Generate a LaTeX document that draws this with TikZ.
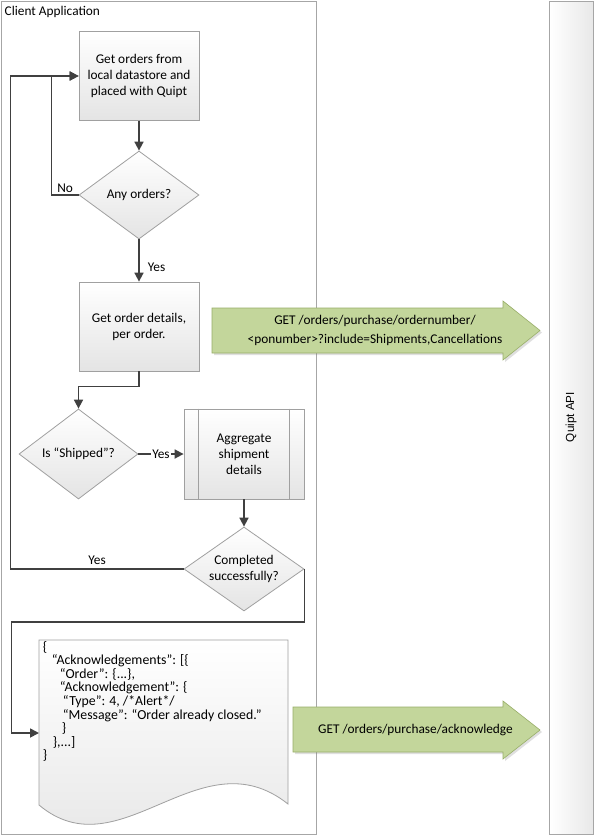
\documentclass[tikz,border=0pt]{standalone}
\usepackage{fontspec}
\setmainfont{Carlito}
\newfontfamily\apifont{Liberation Sans}
\usetikzlibrary{arrows.meta,shapes.geometric,calc,shadows}

\definecolor{linegray}{HTML}{404040}
\definecolor{bordergray}{HTML}{A6A6A6}
\definecolor{shapeborder}{HTML}{A0A0A0}
\definecolor{greenfill}{HTML}{C3D69B}
\definecolor{greenborder}{HTML}{98AE68}
\definecolor{shadegray}{HTML}{E4E4E4}

\begin{document}
\begin{tikzpicture}[x=1pt,y=-1pt,
  txt/.style={font=\fontsize{13.33}{16}\selectfont, text=black},
  procbox/.style={txt, draw=shapeborder, line width=0.8pt, top color=white, bottom color=shadegray,
    minimum width=120, minimum height=89, align=center, inner sep=0},
  decision/.style={diamond, draw=shapeborder, line width=0.8pt, top color=white, bottom color=shadegray,
    inner sep=0, minimum width=120, minimum height=88},
  dlabel/.style={txt, align=center},
  flow/.style={draw=linegray, line width=1.7pt, -{Triangle[length=9pt,width=9pt]}},
  lbl/.style={txt, inner sep=2pt},
  frame/.style={draw=bordergray, line width=1pt, anchor=north west, inner sep=0},
  callarrow/.style={fill=greenfill, draw=greenborder, line width=0.6pt,
    drop shadow={shadow xshift=2pt, shadow yshift=-2pt, opacity=0.25}}
]
\useasboundingbox (0,0) rectangle (596,836);
\fill[white] (0,0) rectangle (596,836);

% frames
\node[frame, fill=white, minimum width=315, minimum height=833] (client) at (1,1) {};
\node[txt, anchor=base west, inner sep=0] (clienttitle) at (4.5,15.5) {Client Application};
\node[frame, left color=white, right color=black!9, minimum width=44, minimum height=833] (api) at (549,1) {};
\node[rotate=90, font=\apifont\fontsize{11.7}{14}\selectfont] (apilabel) at (571,417) {Quipt API};

% process shapes
\node[procbox] (box1) at (139,76) {Get orders from\\local datastore and\\placed with Quipt};
\node[decision, label={[dlabel]center:Any orders?}] (d1) at (139,195) {};
\node[procbox] (box2) at (139,326.5) {Get order details,\\per order.};
\node[decision, minimum width=119, minimum height=90, label={[dlabel]center:Is “Shipped”?}] (d2) at (78.5,454) {};
\node[procbox, minimum height=90] (box3) at (244,454) {Aggregate\\shipment\\details};
\draw[draw=shapeborder, line width=0.8pt] ($(box3.north west)+(15,0)$) -- ($(box3.south west)+(15,0)$);
\draw[draw=shapeborder, line width=0.8pt] ($(box3.north east)+(-15,0)$) -- ($(box3.south east)+(-15,0)$);
\node[decision, minimum height=84, label={[dlabel]center:Completed\\successfully?}] (d3) at (244,569) {};

% document shape
\path[draw=shapeborder, line width=0.8pt, top color=white, bottom color=shadegray]
  (39,640) -- (288,640) -- (288,804)
  .. controls (200,734) and (120,873) .. (39,805) -- cycle;
\node[txt, font=\fontsize{13.8}{13.6}\selectfont, align=left, anchor=north west, inner sep=0] (doc) at (42.7,641) {%
\{\\
\hspace*{9pt}“Acknowledgements”: [\{\\
\hspace*{17pt}“Order”: \{...\},\\
\hspace*{17pt}“Acknowledgement”: \{\\
\hspace*{20pt}“Type”: 4, /*Alert*/\\
\hspace*{20pt}“Message”: “Order already closed.”\\
\hspace*{19pt}\}\\
\hspace*{10pt}\},...]\\
\}};
\coordinate (docin) at (39,733);

% connectors
\draw[flow] (box1.south) -- (d1.north);
\draw[flow] (d1.west) -- node[lbl, above] (nolbl) {No} ++(-27,0) |- (box1.west);
\draw[flow] (d1.south) -- node[lbl, right, pos=0.67, xshift=6pt] (yes1) {Yes} (box2.north);
\draw[flow] (box2.south) -- ++(0,15) -| (d2.north);
\draw[flow] (d2.east) -- node[lbl, fill=white, inner sep=1pt] (yes2) {Yes} (box3.west);
\draw[flow] (box3.south) -- (d3.north);
\draw[flow] (d3.west) -- node[lbl, above, yshift=2pt] (yes3) {Yes} ++(-173,0) |- (box1.west);
\draw[flow] (d3.east) -- ++(0,53) -- ++(-293,0) |- (docin);

% API calls
\path[callarrow] (212,308) -- (503,308) -- (503,301) -- (540,330.5) -- (503,360) -- (503,353) -- (212,353) -- cycle;
\node[txt, align=center, font=\fontsize{13.33}{19}\selectfont] (call1) at (375,330.5)
  {GET /orders/purchase/ordernumber/\\<ponumber>?include=Shipments,Cancellations};
\path[callarrow] (293,707) -- (503,707) -- (503,701) -- (540,730) -- (503,759) -- (503,752) -- (293,752) -- cycle;
\node[txt] (call2) at (415.5,730) {GET /orders/purchase/acknowledge};
\end{tikzpicture}
\end{document}
